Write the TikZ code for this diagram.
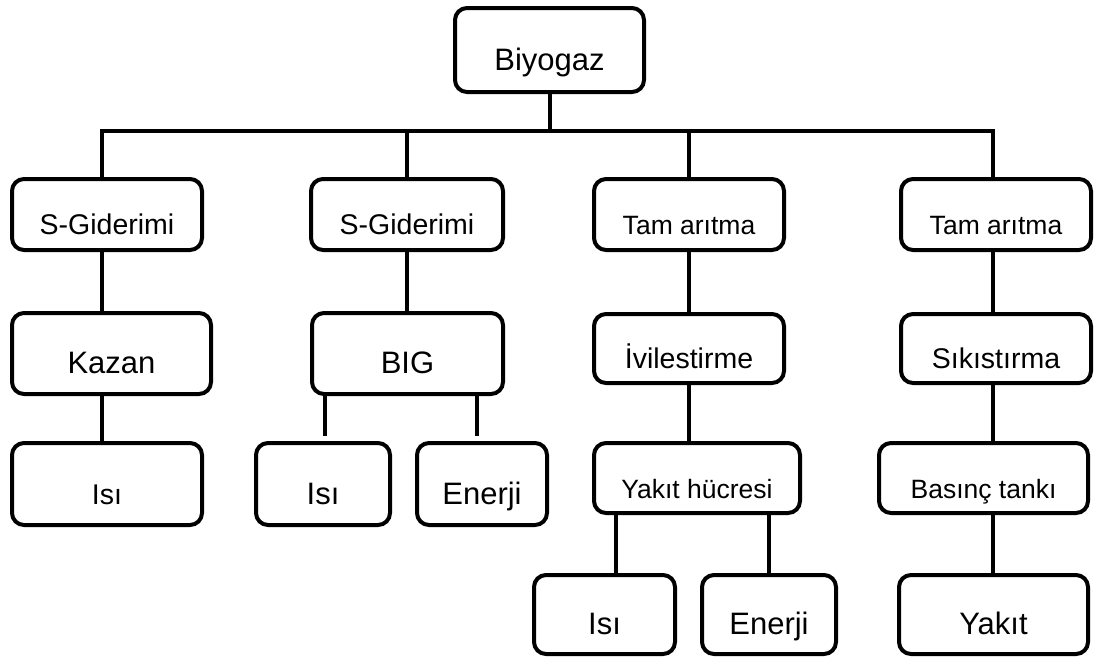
\documentclass[tikz,border=0pt]{standalone}
\usepackage{fontspec}
\setmainfont{Liberation Sans}
\begin{document}
\begin{tikzpicture}[x=1pt,y=-1pt,
  box/.style={draw, line width=4pt, rounded corners=12pt, fill=white,
    inner sep=0pt, text height=40pt, text depth=0pt},
  big/.style={font=\fontsize{31}{36}\selectfont},
  mid/.style={font=\fontsize{28.5}{34}\selectfont},
  small/.style={font=\fontsize{26.5}{32}\selectfont},
  link/.style={line width=4pt}]
\useasboundingbox (0,0) rectangle (1095,659);

% level 0
\node[box,big,minimum width=189pt,minimum height=84pt] (bio) at (549.5,50) {Biyogaz};

% level 1
\node[box,mid,minimum width=190pt,minimum height=71pt] (sg1) at (107,214.5) {S-Giderimi};
\node[box,mid,minimum width=192pt,minimum height=71pt] (sg2) at (407,214.5) {S-Giderimi};
\node[box,small,minimum width=190pt,minimum height=71pt] (ta1) at (689,214.5) {Tam arıtma};
\node[box,small,minimum width=190pt,minimum height=71pt] (ta2) at (996,214.5) {Tam arıtma};

% level 2
\node[box,big,minimum width=199pt,minimum height=81pt] (kazan) at (111.5,353.5) {Kazan};
\node[box,big,minimum width=191pt,minimum height=81pt] (bigg) at (407.5,353.5) {BIG};
\node[box,mid,minimum width=190pt,minimum height=69pt] (ivil) at (689,348.5) {İvilestirme};
\node[box,mid,minimum width=190pt,minimum height=69pt] (sik) at (996,348.5) {Sıkıstırma};

% level 3
\node[box,mid,minimum width=190pt,minimum height=82pt] (isiA) at (107,484) {Isı};
\node[box,big,minimum width=134pt,minimum height=82pt] (isiB) at (323,484) {Isı};
\node[box,big,minimum width=130pt,minimum height=82pt] (enB) at (482,484) {Enerji};
\node[box,small,minimum width=206pt,minimum height=70pt] (yh) at (697,478) {Yakıt hücresi};
\node[box,small,minimum width=209pt,minimum height=70pt] (bt) at (983.5,478) {Basınç tankı};

% level 4
\node[box,big,minimum width=141pt,minimum height=79pt] (isiC) at (604.5,614.5) {Isı};
\node[box,big,minimum width=134pt,minimum height=79pt] (enC) at (769,614.5) {Enerji};
\node[box,big,minimum width=189pt,minimum height=79pt] (yakit) at (993.5,614.5) {Yakıt};

% bus under the root
\coordinate (busL) at (102,131);
\coordinate (busR) at (993,131);
\draw[link] ([xshift=-2pt]busL) -- ([xshift=2pt]busR);
\draw[link] (bio.south) -- (bio.south |- busL);
\draw[link] (busL) -- (busL |- sg1.north);
\draw[link] (sg2.north |- busL) -- (sg2.north);
\draw[link] (ta1.north |- busL) -- (ta1.north);
\draw[link] (busR) -- (busR |- ta2.north);

% branch 1
\draw[link] ([xshift=-5pt]sg1.south) -- ([xshift=-5pt]sg1.south |- kazan.north);
\draw[link] ([xshift=-5pt]isiA.north |- kazan.south) -- ([xshift=-5pt]isiA.north);

% branch 2
\draw[link] (sg2.south) -- (sg2.south |- bigg.north);
\draw[link,shorten >=5pt] ([xshift=2pt]isiB.north |- bigg.south) -- ([xshift=2pt]isiB.north);
\draw[link,shorten >=5pt] ([xshift=-5pt]enB.north |- bigg.south) -- ([xshift=-5pt]enB.north);

% branch 3
\draw[link] (ta1.south) -- (ta1.south |- ivil.north);
\draw[link] (ivil.south) -- (ivil.south |- yh.north);
\draw[link] ([xshift=11.5pt]isiC.north |- yh.south) -- ([xshift=11.5pt]isiC.north);
\draw[link] (enC.north |- yh.south) -- (enC.north);

% branch 4
\draw[link] (busR |- ta2.south) -- (busR |- sik.north);
\draw[link] (busR |- sik.south) -- (busR |- bt.north);
\draw[link] (busR |- bt.south) -- (busR |- yakit.north);
\end{tikzpicture}
\end{document}
